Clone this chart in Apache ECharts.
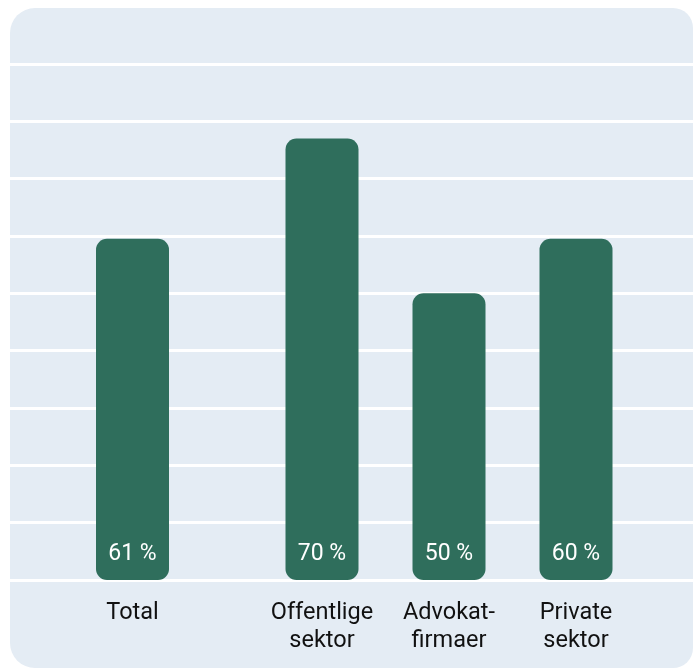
<!DOCTYPE html>
<html>
<head>
<meta charset="utf-8">
<script src="https://cdn.jsdelivr.net/npm/echarts@6/dist/echarts.min.js"></script>
<style>
html,body{margin:0;padding:0;background:#ffffff;}
#chart{width:693px;height:669px;}
</style>
</head>
<body>
<div id="chart"></div>
<script>
// Data
const categories = ['Total', 'Offentlige\nsektor', 'Advokat-\nfirmaer', 'Private\nsektor'];
const barValues = [59.5, 77, 50, 59.5];          // bar heights as drawn (axis units)
const valueLabels = ['61 %', '70 %', '50 %', '60 %'];
const yTicks = [0, 10, 20, 30, 40, 50, 60, 70, 80, 90];

const chart = echarts.init(document.getElementById('chart'), null, { renderer: 'canvas' });
const font = 'Roboto, "Liberation Sans", sans-serif';
const yMin = yTicks[0], yMax = yTicks[yTicks.length - 1], yInt = yTicks[1] - yTicks[0];

// Two groups: the total on its own, then the three sectors
const groups = [[0], [1, 2, 3]];
const groupGrids = [
  { left: 69, width: 127, top: 64, bottom: 89 },
  { left: 258.5, width: 381, top: 64, bottom: 89 }
];

const grids = [{ left: 10, right: 0, top: 64, bottom: 89 }].concat(groupGrids);
const xAxes = [{ gridIndex: 0, type: 'value', show: false, min: 0, max: 1 }];
const yAxes = [{
  gridIndex: 0, type: 'value', min: yMin, max: yMax, interval: yInt,
  axisLabel: { show: false }, axisLine: { show: false }, axisTick: { show: false },
  splitLine: { show: true, lineStyle: { color: '#ffffff', width: 3 } }
}];
const series = [];
groups.forEach((idx, g) => {
  const gi = g + 1;
  xAxes.push({
    gridIndex: gi, type: 'category', data: idx.map(i => categories[i]),
    axisLine: { show: false }, axisTick: { show: false },
    axisLabel: { interval: 0, color: '#111111', fontSize: 23.5, fontFamily: font, lineHeight: 28, margin: 19 }
  });
  yAxes.push({
    gridIndex: gi, type: 'value', min: yMin, max: yMax, interval: yInt, show: false
  });
  series.push({
    type: 'bar', xAxisIndex: gi, yAxisIndex: gi,
    data: idx.map(i => ({ value: barValues[i], label: { formatter: valueLabels[i] } })),
    barWidth: 73,
    itemStyle: { color: '#2f6e5c', borderRadius: 11 },
    label: {
      show: true, position: 'insideBottom', distance: 14,
      color: '#ffffff', fontSize: 23, fontFamily: font
    }
  });
});

chart.setOption({
  animation: false,
  backgroundColor: '#ffffff',
  graphic: [{
    type: 'rect', z: -10, silent: true,
    shape: { x: 10, y: 8, width: 683, height: 660, r: [25, 20, 20, 25] },
    style: { fill: '#e4ecf4' }
  }],
  grid: grids,
  xAxis: xAxes,
  yAxis: yAxes,
  series: series
});
</script>
</body>
</html>
